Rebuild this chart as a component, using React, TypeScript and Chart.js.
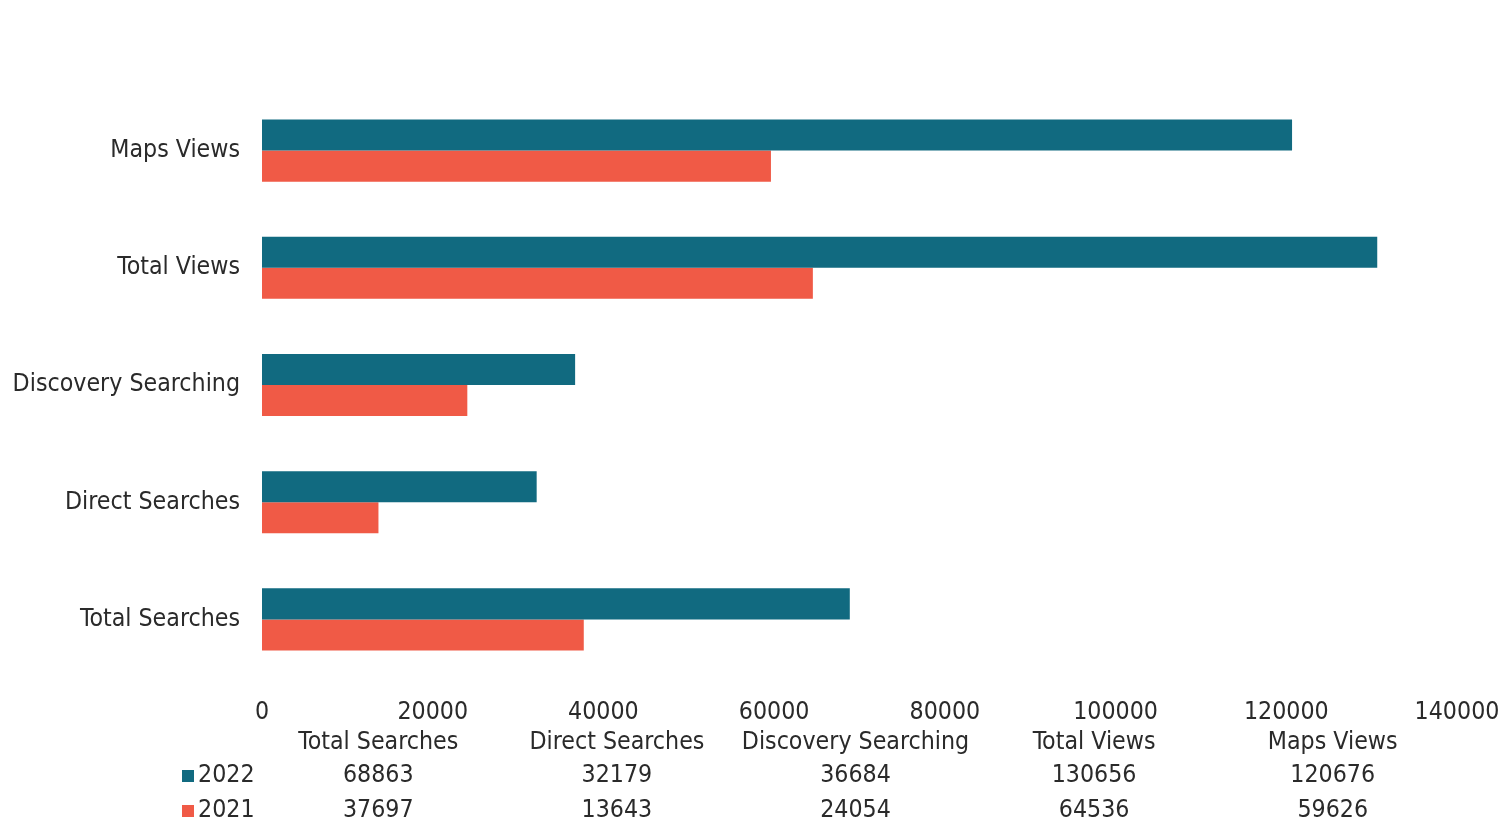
import React, { useEffect, useRef } from "react";
import { Chart, registerables } from "chart.js";

Chart.register(...registerables);

const categories = ["Total Searches", "Direct Searches", "Discovery Searching", "Total Views", "Maps Views"];
const seriesNames = ["2022", "2021"];
const values2022 = [68863, 32179, 36684, 130656, 120676];
const values2021 = [37697, 13643, 24054, 64536, 59626];
const xTicks = [0, 20000, 40000, 60000, 80000, 100000, 120000, 140000];

const COLORS = ["#116a80", "#f05a46"];
const FONT = "'DejaVu Sans Condensed', 'DejaVu Sans', sans-serif";
const TEXT = "#2a2a2a";
const FS = 24.7;

const tablePlugin = {
  id: "dataTable",
  afterDraw(chart: any) {
    const { ctx, chartArea } = chart;
    const left = chartArea.left - 3;
    const right = chartArea.right - 5;
    const colW = (right - left) / categories.length;
    ctx.save();
    ctx.font = `${FS}px ${FONT}`;
    ctx.fillStyle = TEXT;
    ctx.textBaseline = "middle";
    ctx.textAlign = "center";
    const headerY = 743;
    const rowYs = [776, 811];
    const rows = [values2022, values2021];
    categories.forEach((c, i) => {
      const cx = left + colW * (i + 0.5);
      ctx.fillText(c, cx, headerY);
      rows.forEach((r, ri) => {
        ctx.fillText(String(r[i]), cx, rowYs[ri]);
      });
    });
    ctx.textAlign = "left";
    seriesNames.forEach((n, ri) => {
      ctx.fillStyle = COLORS[ri];
      ctx.fillRect(182, rowYs[ri] - 6, 12, 12);
      ctx.fillStyle = TEXT;
      ctx.fillText(n, 198, rowYs[ri]);
    });
    ctx.restore();
  },
};

export default function App() {
  const ref = useRef<HTMLCanvasElement>(null);
  useEffect(() => {
    if (!ref.current) return;
    const chart = new Chart(ref.current, {
      type: "bar",
      data: {
        labels: categories,
        datasets: [
          { label: seriesNames[0], data: values2022, backgroundColor: COLORS[0], barPercentage: 1, categoryPercentage: 0.53 },
          { label: seriesNames[1], data: values2021, backgroundColor: COLORS[1], barPercentage: 1, categoryPercentage: 0.53 },
        ],
      },
      options: {
        indexAxis: "y",
        animation: false,
        responsive: false,
        layout: { padding: { top: 92, right: 42, bottom: 100, left: 0 } },
        plugins: { legend: { display: false }, tooltip: { enabled: false } },
        scales: {
          x: {
            min: 0,
            max: 140000,
            afterBuildTicks: (s: any) => { s.ticks = xTicks.map((v) => ({ value: v })); },
            grid: { display: false, drawTicks: false },
            border: { display: false },
            ticks: {
              color: TEXT,
              font: { family: FONT, size: FS },
              padding: 20,
              maxRotation: 0,
              callback: (v: any) => String(v),
            },
            afterFit: (s: any) => { s.height = 50; s.paddingRight = 0; s.paddingLeft = 0; },
          },
          y: {
            reverse: true,
            grid: { display: false, drawTicks: false },
            border: { display: false },
            ticks: { color: TEXT, font: { family: FONT, size: FS }, padding: 22 },
            afterFit: (s: any) => { s.width = 262; },
          },
        },
      },
      plugins: [tablePlugin],
    });
    return () => chart.destroy();
  }, []);
  return (
    <div style={{ position: "fixed", left: 0, top: 0, width: 1499, height: 828, background: "#fff" }}>
      <canvas ref={ref} width={1499} height={828} style={{ display: "block" }} />
    </div>
  );
}
